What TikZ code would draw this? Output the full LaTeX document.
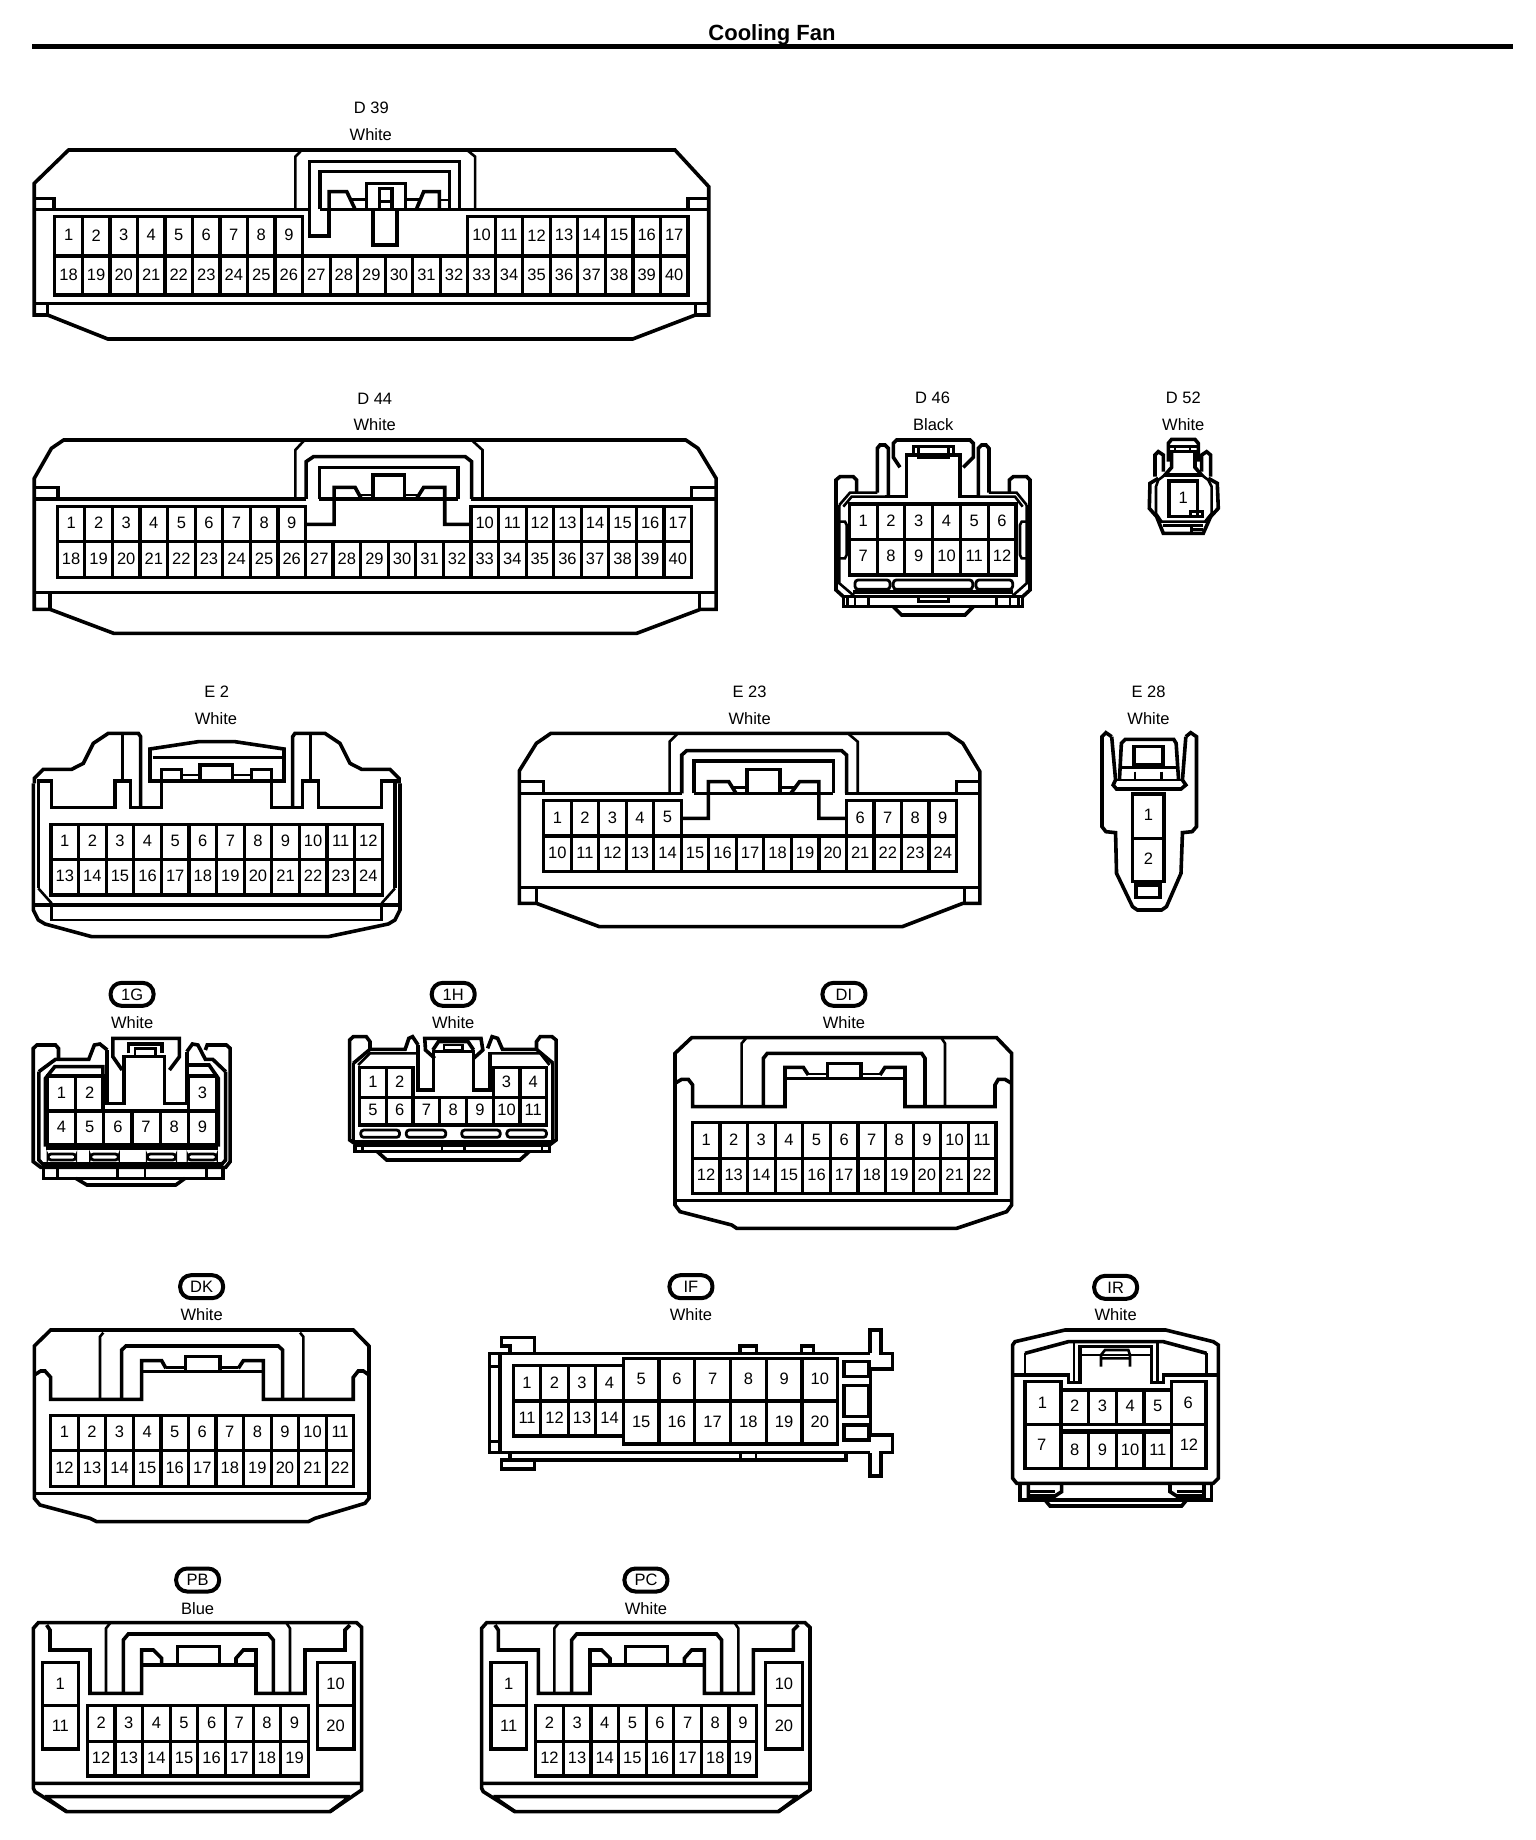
\documentclass[tikz,border=0pt]{standalone}
\usepackage{fontspec}
\setmainfont{Liberation Sans}

\tikzset{
  shell/.style={line width=3.6pt},
  fineline/.style={line width=2.6pt},
  pincell/.style={line width=3.2pt},
  pinlabel/.style={inner sep=0pt, font=\fontsize{16.5}{18}\selectfont},
  taglabel/.style={inner sep=0pt, font=\fontsize{16.5}{18}\selectfont},
  stamp/.style={draw, line width=4pt, rounded corners=11pt, minimum width=43pt, minimum height=23pt, inner sep=0pt, font=\fontsize{16.5}{18}\selectfont},
  pillslot/.style={line width=2.8pt, rounded corners=3pt},
  widegrid/.style={x=0.4898pt, y=-0.3333pt},
  plaingrid/.style={x=0.3333pt, y=-0.3333pt},
}

% prefix, left, cell width, top, bottom, first number, how many
\newcommand{\pinrow}[7]{%
  \foreach \k in {1,...,#7} {
    \pgfmathtruncatemacro{\num}{#6+\k-1}
    \draw[pincell] ({#2+(\k-1)*#3},#4) rectangle ({#2+\k*#3},#5);
    \node[pinlabel] (#1-\num) at ({#2+(\k-0.5)*#3},{(#4+#5)/2-3}) {\num};
  }
}

% the body that PB and PC share
\newcommand{\flatplug}[1]{%
  \draw[shell] (115,158) -- (1070,158) -- (1085,172) -- (1085,660) -- (990,725) -- (200,725) -- (105,665) -- (100,655) -- (100,175) -- cycle;
  \draw[shell] (140,165) -- (150,180) -- (150,240) -- (270,240) -- (270,370) -- (425,370) -- (425,240) -- (460,240) -- (485,265) -- (485,285);
  \draw[shell] (1050,165) -- (1035,180) -- (1035,240) -- (915,240) -- (915,370) -- (768,370) -- (768,240) -- (730,240) -- (708,265) -- (708,285);
  \draw[shell] (425,285) -- (768,285) (532,285) -- (532,230) -- (658,230) -- (658,285);
  \draw[fineline] (318,370) -- (318,175) -- (330,160) (870,370) -- (870,175) -- (860,160);
  \draw[shell] (370,370) -- (370,210) -- (385,192) -- (805,192) -- (820,210) -- (820,370);
  \draw[shell] (100,640) -- (1085,640) (135,680) -- (1050,680) (135,680) -- (200,725) (1050,680) -- (990,725);
  \draw[pincell] (128,277) rectangle (235,407) (128,407) rectangle (235,537);
  \draw[pincell] (952,277) rectangle (1062,407) (952,407) rectangle (1062,537);
  \node[pinlabel] (#1-1) at (181,340) {1};
  \node[pinlabel] (#1-11) at (181,468) {11};
  \node[pinlabel] (#1-10) at (1007,340) {10};
  \node[pinlabel] (#1-20) at (1007,468) {20};
  \pinrow{#1}{262}{82.9}{407}{515}{2}{8}
  \pinrow{#1}{262}{82.9}{515}{618}{12}{8}
}

\begin{document}
\begin{tikzpicture}[x=1pt, y=-1pt]
  \useasboundingbox (0,0) rectangle (1536,1840);

  \node[inner sep=0pt, font=\fontsize{22}{24}\selectfont\bfseries] (title) at (772,34.5) {Cooling Fan};
  \coordinate (ruleleft) at (32,46);
  \coordinate (ruleright) at (1513,46);
  \draw[line width=5pt] (ruleleft) -- (ruleright);

  % D 39
  \begin{scope}[shift={(0,0)}, widegrid]
    \node[taglabel] (d39name) at (758,322) {D 39};
    \node[taglabel] (d39color) at (757,405) {White};
    \draw[shell] (140,450) -- (1378,450) -- (1447,560) -- (1447,945) -- (1420,945) -- (1292,1017) -- (220,1017) -- (97,945) -- (70,945) -- (70,550) -- cycle;
    \draw[shell] (70,628) -- (632,628) (653,628) -- (1447,628);
    \draw[shell] (70,595) -- (110,595) -- (110,628) (1405,628) -- (1405,595) -- (1447,595);
    \draw[shell] (70,910) -- (1447,910) (97,910) -- (97,945) (1420,910) -- (1420,945);
    \draw[fineline] (603,628) -- (603,470) -- (615,452) (955,452) -- (970,470) -- (970,628);
    \draw[shell] (672,628) -- (672,708) -- (632,708) -- (632,485) -- (938,485) -- (938,628);
    \draw[shell] (653,628) -- (653,515) -- (918,515) -- (918,628);
    \draw[shell] (672,628) -- (672,575) -- (708,575) -- (725,628) (897,628) -- (897,575) -- (865,575) -- (850,628);
    \draw[shell] (748,628) -- (748,550) -- (828,550) -- (828,628) (775,628) -- (775,565) -- (800,565) -- (800,628);
    \draw[fineline] (715,598) -- (748,598) (828,598) -- (860,598) (775,605) -- (800,605) (897,600) -- (918,600);
    \draw[shell] (762,628) -- (762,735) -- (810,735) -- (810,628);
    \pinrow{d39}{112}{56.2}{650}{768}{1}{9}
    \pinrow{d39}{955}{56.2}{650}{768}{10}{8}
    \pinrow{d39}{112}{56.2}{768}{885}{18}{23}
  \end{scope}

  % D 44
  \begin{scope}[shift={(0,380)}, widegrid]
    \node[taglabel] (d44name) at (765,55) {D 44};
    \node[taglabel] (d44color) at (765,133) {White};
    \draw[shell] (130,180) -- (1400,180) -- (1425,205) -- (1462,295) -- (1462,688) -- (1430,688) -- (1300,760) -- (232,760) -- (102,688) -- (70,688) -- (70,295) -- (105,205) -- cycle;
    \draw[shell] (70,357) -- (625,357) (652,357) -- (935,357) (962,357) -- (1462,357);
    \draw[shell] (70,322) -- (118,322) -- (118,357) (1412,357) -- (1412,322) -- (1462,322);
    \draw[shell] (70,638) -- (1462,638) (102,638) -- (102,688) (1428,638) -- (1428,688);
    \draw[fineline] (603,357) -- (603,210) -- (620,183) (965,183) -- (985,210) -- (985,357);
    \draw[shell] (625,357) -- (625,245) -- (640,230) -- (950,230) -- (963,245) -- (963,357);
    \draw[shell] (652,357) -- (652,262) -- (935,262) -- (935,357);
    \draw[shell] (762,357) -- (762,285) -- (826,285) -- (826,357);
    \draw[shell] (627,433) -- (682,433) -- (682,322) -- (725,322) -- (738,357);
    \draw[shell] (962,433) -- (908,433) -- (908,322) -- (865,322) -- (850,357);
    \draw[fineline] (735,345) -- (762,345) (826,345) -- (855,345);
    \pinrow{d44}{117}{56.3}{380}{485}{1}{9}
    \pinrow{d44}{961.5}{56.3}{380}{485}{10}{8}
    \pinrow{d44}{117}{56.3}{485}{592}{18}{23}
  \end{scope}

  % D 46 and D 52
  \begin{scope}[shift={(800,380)}, plaingrid]
    \node[taglabel] (d46name) at (398,52) {D 46};
    \node[taglabel] (d46color) at (400,135) {Black};
    \draw[shell] (300,262) -- (280,232) -- (280,190) -- (290,180) -- (510,180) -- (520,190) -- (520,232) -- (490,262);
    \draw[shell] (255,350) -- (320,350) -- (320,225) -- (480,225) -- (480,350) -- (540,350);
    \draw[shell] (232,338) -- (232,205) -- (240,195) -- (255,195) -- (265,205) -- (265,350);
    \draw[shell] (535,350) -- (535,205) -- (545,195) -- (558,195) -- (567,205) -- (567,338);
    \draw[fineline] (340,225) -- (340,200) -- (460,200) -- (460,225) (355,205) -- (355,232) -- (445,232) -- (445,205);
    \draw[shell] (170,338) -- (170,300) -- (160,290) -- (120,290) -- (108,300) -- (108,630) -- (130,650);
    \draw[shell] (628,338) -- (628,300) -- (640,290) -- (680,290) -- (690,300) -- (690,630) -- (668,650);
    \draw[fineline] (118,375) -- (150,338) -- (232,338) (567,338) -- (650,338) -- (680,375);
    \draw[fineline] (130,380) -- (155,350) -- (255,350) (540,350) -- (645,350) -- (668,380);
    \draw[fineline] (118,375) -- (118,610) -- (165,650) (680,375) -- (680,610) -- (635,650);
    \draw[fineline] (118,425) -- (135,425) -- (140,435) -- (140,525) -- (135,535) -- (118,535);
    \draw[fineline] (680,425) -- (665,425) -- (660,435) -- (660,525) -- (665,535) -- (680,535);
    \draw[pillslot] (165,600) rectangle (270,628) (280,600) rectangle (518,628) (528,600) rectangle (638,628);
    \draw[shell] (160,636) -- (640,636) (130,650) -- (668,650);
    \draw[shell] (130,650) -- (130,680) -- (668,680) -- (668,650);
    \draw[fineline] (143,650) -- (143,680) (165,650) -- (165,680) (205,650) -- (205,680) (590,650) -- (590,680) (630,650) -- (630,680) (655,650) -- (655,680);
    \draw[fineline] (355,650) -- (355,665) -- (445,665) -- (445,650);
    \draw[shell] (280,680) -- (305,705) -- (495,705) -- (520,680);
    \pinrow{d46}{148}{83.3}{372}{478}{1}{6}
    \pinrow{d46}{148}{83.3}{478}{585}{7}{6}

    \node[taglabel] (d52name) at (1150,52) {D 52};
    \node[taglabel] (d52color) at (1150,135) {White};
    \draw[shell] (1105,245) -- (1105,190) -- (1115,178) -- (1185,178) -- (1195,190) -- (1195,245);
    \draw[fineline] (1108,200) -- (1192,200) (1108,215) -- (1192,215) (1125,200) -- (1125,215) (1170,200) -- (1170,215);
    \draw[shell] (1115,215) -- (1115,262) -- (1095,285) -- (1205,285) -- (1185,262) -- (1185,215);
    \draw[shell] (1065,290) -- (1065,225) -- (1075,215) -- (1090,225) -- (1090,275) (1205,275) -- (1205,225) -- (1220,215) -- (1232,225) -- (1232,290);
    \draw[shell] (1075,295) -- (1050,310) -- (1048,385) -- (1070,410) -- (1090,460) -- (1210,460) -- (1232,410) -- (1255,385) -- (1252,310) -- (1225,295);
    \draw[fineline] (1095,285) -- (1075,300) -- (1068,320) -- (1068,400) -- (1085,425) -- (1215,425) -- (1235,400) -- (1235,320) -- (1225,300) -- (1205,285);
    \draw[pincell] (1107,303) rectangle (1192,410);
    \node[pinlabel] (d52-1) at (1150,352) {1};
    \draw[pincell] (1172,395) rectangle (1208,410);
    \draw[fineline] (1090,437) -- (1210,437) (1175,437) -- (1175,460) (1175,448) -- (1208,448);
  \end{scope}

  % E 2
  \begin{scope}[shift={(0,680)}, plaingrid]
    \node[taglabel] (e2name) at (650,35) {E 2};
    \node[taglabel] (e2color) at (648,117) {White};
    \draw[shell] (103,310) -- (103,295) -- (130,268) -- (215,268) -- (250,250) -- (280,190) -- (325,160) -- (415,160) -- (422,170) -- (422,382);
    \draw[shell] (878,382) -- (878,170) -- (885,160) -- (975,160) -- (1020,190) -- (1050,250) -- (1085,268) -- (1170,268) -- (1197,295) -- (1197,310);
    \draw[shell] (100,310) -- (100,690) -- (115,720) -- (135,732) -- (275,770) -- (985,770) -- (1165,732) -- (1185,720) -- (1200,690) -- (1200,310);
    \draw[shell] (115,625) -- (115,303) -- (155,303) -- (155,382) -- (345,382) -- (345,303) -- (392,303) -- (392,382) -- (485,382) -- (485,268) -- (545,268) -- (545,300);
    \draw[shell] (1185,625) -- (1185,303) -- (1145,303) -- (1145,382) -- (955,382) -- (955,303) -- (908,303) -- (908,382) -- (815,382) -- (815,268) -- (755,268) -- (755,300);
    \draw[shell] (368,160) -- (368,303) (932,160) -- (932,303);
    \draw[shell] (450,303) -- (450,207) -- (595,185) -- (705,185) -- (852,207) -- (852,303) -- cycle;
    \draw[shell] (458,232) -- (845,232) (600,303) -- (600,255) -- (698,255) -- (698,303);
    \draw[fineline] (545,285) -- (600,285) (698,285) -- (755,285);
    \draw[fineline] (115,625) -- (155,670) (1185,625) -- (1145,670);
    \draw[shell] (100,675) -- (1200,675);
    \draw[fineline] (155,675) -- (155,720) -- (1145,720) -- (1145,675);
    \pinrow{e2}{153}{82.8}{433}{538}{1}{12}
    \pinrow{e2}{153}{82.8}{538}{645}{13}{12}
  \end{scope}

  % E 23 and E 28
  \begin{scope}[shift={(500,680)}, x=0.4847pt, y=-0.3333pt]
    \node[taglabel] (e23name) at (515,35) {E 23};
    \node[taglabel] (e23color) at (515,117) {White};
    \draw[shell] (105,160) -- (925,160) -- (955,190) -- (990,275) -- (990,670) -- (955,670) -- (830,740) -- (205,740) -- (75,670) -- (40,670) -- (40,272) -- (75,190) -- cycle;
    \draw[shell] (40,340) -- (375,340) (400,340) -- (688,340) (712,340) -- (990,340);
    \draw[shell] (40,305) -- (90,305) -- (90,340) (942,340) -- (942,305) -- (990,305);
    \draw[shell] (40,622) -- (990,622) (75,622) -- (75,670) (958,622) -- (958,670);
    \draw[fineline] (350,340) -- (350,185) -- (365,163) (720,163) -- (738,185) -- (738,340);
    \draw[shell] (375,340) -- (375,225) -- (385,212) -- (705,212) -- (715,225) -- (715,340);
    \draw[shell] (400,340) -- (400,243) -- (688,243) -- (688,340);
    \draw[shell] (510,340) -- (510,268) -- (578,268) -- (578,340);
    \draw[shell] (378,415) -- (430,415) -- (430,305) -- (472,305) -- (487,340);
    \draw[shell] (712,415) -- (658,415) -- (658,305) -- (618,305) -- (600,340);
    \draw[fineline] (480,322) -- (510,322) (578,322) -- (610,322);
    \pinrow{e23}{90}{56.8}{362}{468}{1}{5}
    \pinrow{e23}{714.8}{56.8}{362}{468}{6}{4}
    \pinrow{e23}{90}{56.8}{468}{575}{10}{15}

    \node[taglabel] (e28name) at (1338,35) {E 28};
    \node[taglabel] (e28color) at (1338,117) {White};
    \draw[shell] (1262,170) -- (1250,158) -- (1242,170) -- (1242,440) -- (1250,455) -- (1270,458) -- (1272,580) -- (1305,680) -- (1315,690) -- (1365,690) -- (1375,680) -- (1405,580) -- (1408,458) -- (1428,455) -- (1437,440) -- (1437,170) -- (1425,158) -- (1415,170);
    \draw[shell] (1262,170) -- (1270,300) -- (1265,315) -- (1272,327) -- (1405,327) -- (1415,315) -- (1408,300) -- (1415,170);
    \draw[shell] (1278,300) -- (1282,190) -- (1290,178) -- (1390,178) -- (1395,190) -- (1400,300);
    \draw[shell] (1308,200) rectangle (1368,255);
    \draw[fineline] (1280,262) -- (1398,262) (1268,300) -- (1408,300) (1310,275) -- (1310,300) (1365,275) -- (1365,300);
    \draw[pincell] (1305,342) rectangle (1370,475) (1305,475) rectangle (1370,605);
    \node[pinlabel] (e28-1) at (1338,405) {1};
    \node[pinlabel] (e28-2) at (1338,537) {2};
    \draw[shell] (1312,615) rectangle (1362,652);
  \end{scope}

  % 1G and 1H
  \begin{scope}[shift={(0,970)}, x=0.37pt, y=-0.3333pt]
    \node[stamp] (gtag) at (357,73) {1G};
    \node[taglabel] (gcolor) at (357,157) {White};
    \draw[shell] (158,268) -- (158,235) -- (150,225) -- (100,225) -- (90,235) -- (90,575) -- (110,592) -- (610,592) -- (622,575) -- (622,235) -- (612,225) -- (560,225) -- (555,240);
    \draw[shell] (105,305) -- (150,268) -- (240,268) -- (255,225) -- (270,222) -- (290,240);
    \draw[shell] (505,245) -- (520,222) -- (535,225) -- (555,268) -- (575,268) -- (610,305);
    \draw[shell] (330,300) -- (305,260) -- (305,205) -- (485,205) -- (485,260) -- (458,300);
    \draw[shell] (290,240) -- (290,400) -- (335,400) -- (335,260) -- (445,260) -- (445,400) -- (505,400) -- (505,245);
    \draw[shell] (347,250) -- (347,222) -- (438,222) -- (438,250);
    \draw[fineline] (365,232) -- (365,258) (420,232) -- (420,258) (365,235) -- (420,235);
    \draw[shell] (105,305) -- (105,570) -- (115,582) -- (600,582) -- (610,570) -- (610,305);
    \draw[shell] (123,530) -- (123,325) -- (148,290) -- (278,290) -- (278,420);
    \draw[shell] (590,530) -- (590,325) -- (565,285) -- (510,285);
    \draw[shell] (123,535) -- (590,535);
    \draw[pillslot] (130,552) rectangle (205,570) (245,552) rectangle (320,570) (398,552) rectangle (475,570) (508,552) rectangle (585,570);
    \draw[shell] (118,595) -- (118,625) -- (602,625) -- (602,595);
    \draw[fineline] (155,595) -- (155,625) (318,595) -- (318,625) (392,595) -- (392,625) (558,595) -- (558,625);
    \draw[shell] (205,625) -- (235,645) -- (475,645) -- (500,625);
    \pinrow{g}{128}{76.2}{318}{423}{1}{2}
    \pinrow{g}{509}{76.2}{318}{423}{3}{1}
    \pinrow{g}{128}{76.2}{423}{525}{4}{6}

    \node[stamp] (htag) at (1225,73) {1H};
    \node[taglabel] (hcolor) at (1225,157) {White};
    \draw[shell] (1000,238) -- (1000,215) -- (990,200) -- (955,200) -- (945,210) -- (945,510) -- (965,525) -- (1485,525) -- (1503,510) -- (1503,210) -- (1492,200) -- (1460,200) -- (1450,215) -- (1450,238);
    \draw[shell] (955,280) -- (1000,238) -- (1095,238) -- (1105,205) -- (1115,200) -- (1130,225);
    \draw[shell] (1318,235) -- (1330,200) -- (1345,205) -- (1358,238) -- (1450,238) -- (1495,280);
    \draw[shell] (1175,265) -- (1150,240) -- (1148,205) -- (1300,205) -- (1305,240) -- (1280,265);
    \draw[shell] (1130,225) -- (1130,360) -- (1172,360) -- (1172,245) -- (1280,245) -- (1280,360) -- (1325,360) -- (1325,245);
    \draw[shell] (1170,240) -- (1185,215) -- (1265,215) -- (1280,240);
    \draw[fineline] (1200,225) rectangle (1250,240);
    \draw[shell] (955,280) -- (955,515) -- (1493,515) -- (1493,280);
    \draw[fineline] (968,285) -- (1000,250) -- (1125,250) (1330,250) -- (1460,250) -- (1485,285);
    \draw[pillslot] (975,480) rectangle (1080,502) (1098,480) rectangle (1205,502) (1248,480) rectangle (1352,502) (1370,480) rectangle (1477,502);
    \draw[shell] (960,525) -- (960,545) -- (1485,545) -- (1485,525);
    \draw[fineline] (980,525) -- (980,545) (1195,525) -- (1195,545) (1255,525) -- (1255,545) (1465,525) -- (1465,545);
    \draw[shell] (1020,545) -- (1045,570) -- (1405,570) -- (1430,545);
    \pinrow{h}{972}{72.2}{292}{382}{1}{2}
    \pinrow{h}{1333}{72.2}{292}{382}{3}{2}
    \pinrow{h}{972}{72.2}{382}{465}{5}{7}
  \end{scope}

  % DI
  \begin{scope}[shift={(660,970)}, plaingrid]
    \node[stamp] (ditag) at (552,73) {DI};
    \node[taglabel] (dicolor) at (552,157) {White};
    \draw[shell] (95,203) -- (1010,203) -- (1055,250) -- (1055,705) -- (1040,725) -- (890,775) -- (230,775) -- (215,765) -- (60,725) -- (45,705) -- (45,250) -- cycle;
    \draw[shell] (45,340) -- (65,328) -- (85,328) -- (98,345) -- (98,410) -- (375,410) -- (375,292) -- (430,292) -- (445,315);
    \draw[shell] (1055,340) -- (1035,328) -- (1015,328) -- (1005,345) -- (1005,410) -- (735,410) -- (735,292) -- (675,292) -- (660,315);
    \draw[shell] (375,325) -- (735,325) (503,325) -- (503,280) -- (603,280) -- (603,325);
    \draw[fineline] (445,312) -- (503,312) (603,312) -- (660,312);
    \draw[fineline] (245,410) -- (245,220) -- (258,205) (855,410) -- (855,220) -- (845,205);
    \draw[shell] (310,410) -- (310,265) -- (322,250) -- (785,250) -- (795,265) -- (795,410);
    \draw[shell] (45,692) -- (1055,692);
    \pinrow{di}{97}{82.8}{458}{565}{1}{11}
    \pinrow{di}{97}{82.8}{565}{670}{12}{11}
  \end{scope}

  % DK
  \begin{scope}[shift={(0,1270)}, plaingrid]
    \node[stamp] (dktag) at (605,50) {DK};
    \node[taglabel] (dkcolor) at (605,135) {White};
    \draw[shell] (152,180) -- (1060,180) -- (1107,228) -- (1107,685) -- (1095,700) -- (945,745) -- (925,755) -- (290,755) -- (270,745) -- (120,705) -- (103,685) -- (103,228) -- cycle;
    \draw[shell] (103,315) -- (122,303) -- (135,303) -- (152,322) -- (152,388) -- (425,388) -- (425,272) -- (485,272) -- (498,295);
    \draw[shell] (1107,315) -- (1090,303) -- (1075,303) -- (1060,322) -- (1060,388) -- (790,388) -- (790,272) -- (730,272) -- (715,295);
    \draw[shell] (425,305) -- (790,305) (557,305) -- (557,260) -- (660,260) -- (660,305);
    \draw[fineline] (498,292) -- (557,292) (660,292) -- (715,292);
    \draw[fineline] (300,388) -- (300,200) -- (310,188) (910,388) -- (910,200) -- (900,188);
    \draw[shell] (365,388) -- (365,240) -- (378,228) -- (835,228) -- (848,240) -- (848,388);
    \draw[shell] (103,670) -- (1107,670);
    \pinrow{dk}{152}{82.7}{437}{542}{1}{11}
    \pinrow{dk}{152}{82.7}{542}{650}{12}{11}
  \end{scope}

  % IF
  \begin{scope}[shift={(480,1270)}, plaingrid]
    \node[stamp] (iftag) at (633,50) {IF};
    \node[taglabel] (ifcolor) at (633,135) {White};
    \draw[shell] (1170,250) -- (28,250) -- (28,548) -- (1170,548);
    \draw[shell] (1170,250) -- (1170,180) -- (1203,180) -- (1203,250) -- (1238,250) -- (1238,297) -- (1172,297) -- (1172,495) -- (1238,495) -- (1238,548) -- (1203,548) -- (1203,618) -- (1170,618) -- (1170,548);
    \draw[shell] (90,250) -- (90,228) -- (65,228) -- (65,203) -- (163,203) -- (163,250);
    \draw[shell] (90,548) -- (90,570) -- (1098,570) -- (1098,548) (90,570) -- (65,570) -- (65,597) -- (163,597) -- (163,570);
    \draw[fineline] (782,550) -- (782,570) (828,550) -- (828,570);
    \draw[shell] (60,250) -- (60,548);
    \draw[fineline] (28,290) -- (60,290) (28,515) -- (60,515);
    \draw[shell] (780,250) -- (780,228) -- (830,228) -- (830,250) (965,250) -- (965,228) -- (1000,228) -- (1000,250);
    \draw[shell] (1092,275) rectangle (1167,320) (1092,347) rectangle (1167,440) (1092,465) rectangle (1167,510);
    \pinrow{if}{100}{82.5}{287}{393}{1}{4}
    \pinrow{if}{100}{82.5}{393}{498}{11}{4}
    \pinrow{if}{430}{107.2}{265}{393}{5}{6}
    \pinrow{if}{430}{107.2}{393}{522}{15}{6}
  \end{scope}

  % IR
  \begin{scope}[shift={(1000,1270)}, plaingrid]
    \node[stamp] (irtag) at (347,52) {IR};
    \node[taglabel] (ircolor) at (347,135) {White};
    \draw[shell] (45,215) -- (195,180) -- (497,180) -- (640,215) -- (655,225) -- (655,625) -- (640,640) -- (50,640) -- (38,625) -- (38,225) -- cycle;
    \draw[shell] (75,250) -- (205,215) -- (490,215) -- (620,250);
    \draw[fineline] (75,250) -- (75,315) (620,250) -- (620,315);
    \draw[shell] (38,315) -- (205,315) -- (205,337) -- (240,337) -- (240,230) -- (455,230) -- (455,337) -- (490,337) -- (490,315) -- (655,315);
    \draw[fineline] (222,215) -- (222,335) (472,215) -- (472,335) (240,255) -- (455,255);
    \draw[fineline] (303,290) -- (303,255) -- (315,240) -- (385,240) -- (390,255) -- (390,290) (303,265) -- (390,265);
    \draw[pincell] (75,335) rectangle (183,463) (75,463) rectangle (183,595);
    \draw[pincell] (515,335) rectangle (618,463) (515,463) rectangle (618,595);
    \node[pinlabel] (ir-1) at (127,397) {1};
    \node[pinlabel] (ir-7) at (125,525) {7};
    \node[pinlabel] (ir-6) at (565,397) {6};
    \node[pinlabel] (ir-12) at (567,525) {12};
    \draw[pincell] (183,483) -- (515,483);
    \pinrow{ir}{183}{83}{360}{463}{2}{4}
    \pinrow{ir}{183}{83}{488}{595}{8}{4}
    \draw[shell] (60,640) -- (60,690) -- (635,690) -- (635,640);
    \draw[shell] (85,640) -- (85,678) -- (165,678) -- (185,665) -- (185,640) (612,640) -- (612,678) -- (530,678) -- (510,665) -- (510,640);
    \draw[fineline] (85,665) -- (165,665) (530,665) -- (612,665);
    \draw[shell] (135,690) -- (150,708) -- (545,708) -- (560,690);
  \end{scope}

  % PB and PC
  \begin{scope}[shift={(0,1570)}, plaingrid]
    \node[stamp] (pbtag) at (593,30) {PB};
    \node[taglabel] (pbcolor) at (593,115) {Blue};
    \flatplug{pb}
  \end{scope}
  \begin{scope}[shift={(448.33,1570)}, plaingrid]
    \node[stamp] (pctag) at (593,30) {PC};
    \node[taglabel] (pccolor) at (593,115) {White};
    \flatplug{pc}
  \end{scope}
\end{tikzpicture}
\end{document}
